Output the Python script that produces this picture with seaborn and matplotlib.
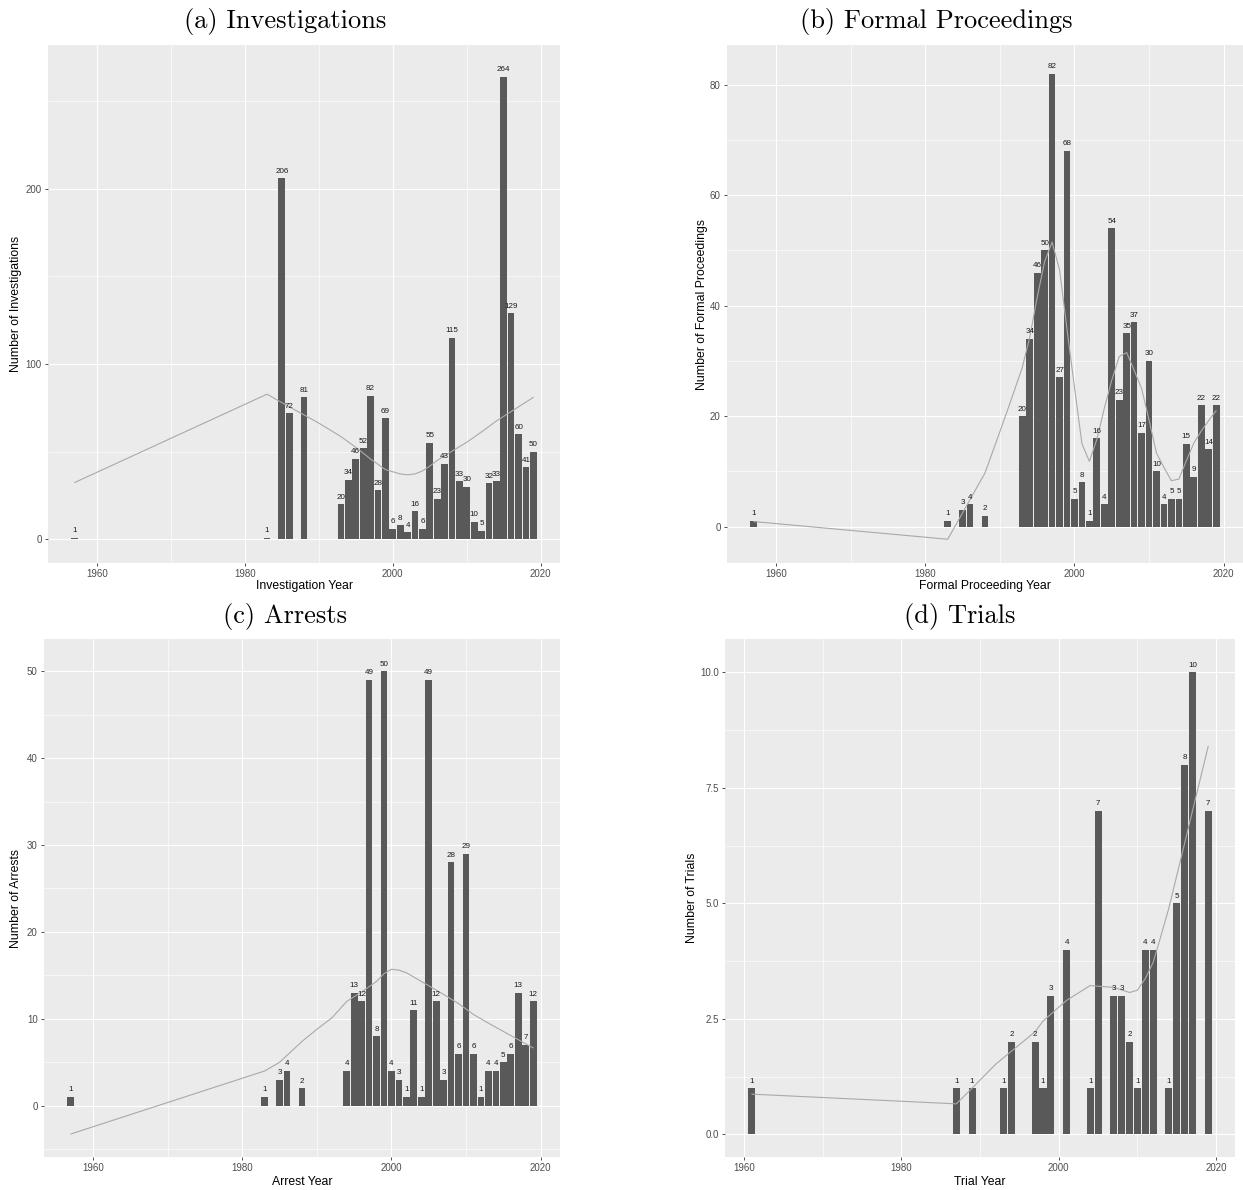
import matplotlib
matplotlib.use("Agg")
import matplotlib.pyplot as plt
import pandas as pd
import seaborn as sns

# ---------------- data ----------------
inv_years = [1957, 1983, 1985, 1986, 1988, 1993, 1994, 1995, 1996, 1997, 1998, 1999,
             2000, 2001, 2002, 2003, 2004, 2005, 2006, 2007, 2008, 2009, 2010, 2011,
             2012, 2013, 2014, 2015, 2016, 2017, 2018, 2019]
inv_counts = [1, 1, 206, 72, 81, 20, 34, 46, 52, 82, 28, 69,
              6, 8, 4, 16, 6, 55, 23, 43, 115, 33, 30, 10,
              5, 32, 33, 264, 129, 60, 41, 50]
inv_smooth_years = [1957, 1983, 1986, 1988, 1990, 1993, 1995, 1997, 1999, 2001, 2002,
                    2003, 2004, 2005, 2006, 2008, 2010, 2012, 2014, 2016, 2019]
inv_smooth = [32.4, 82.8, 75.6, 71.0, 66.3, 58.6, 52.5, 45.8, 39.8, 37.3, 36.8,
              37.3, 39.0, 41.8, 45.0, 50.3, 55.4, 61.3, 67.5, 72.9, 81.0]

fp_years = [1957, 1983, 1985, 1986, 1988, 1993, 1994, 1995, 1996, 1997, 1998, 1999,
            2000, 2001, 2002, 2003, 2004, 2005, 2006, 2007, 2008, 2009, 2010, 2011,
            2012, 2013, 2014, 2015, 2016, 2017, 2018, 2019]
fp_counts = [1, 1, 3, 4, 2, 20, 34, 46, 50, 82, 27, 68,
             5, 8, 1, 16, 4, 54, 23, 35, 37, 17, 30, 10,
             4, 5, 5, 15, 9, 22, 14, 22]
fp_smooth_years = [1957, 1983, 1985, 1988, 1990, 1991, 1993, 1994, 1995, 1996, 1997,
                   1998, 1999, 2000, 2001, 2002, 2003, 2004, 2005, 2006, 2007, 2008,
                   2009, 2010, 2011, 2012, 2013, 2014, 2015, 2016, 2017, 2018, 2019]
fp_smooth = [0.9, -2.3, 2.5, 9.7, 17.2, 21.0, 28.8, 34.3, 41.5, 48.0, 51.5,
             46.5, 35.7, 25.2, 15.0, 11.8, 15.8, 21.4, 26.5, 30.8, 31.5, 28.3,
             25.0, 19.3, 13.3, 10.7, 8.3, 8.6, 11.9, 15.1, 17.3, 19.2, 21.0]

ar_years = [1957, 1983, 1985, 1986, 1988, 1994, 1995, 1996, 1997, 1998, 1999, 2000,
            2001, 2002, 2003, 2004, 2005, 2006, 2007, 2008, 2009, 2010, 2011, 2012,
            2013, 2014, 2015, 2016, 2017, 2018, 2019]
ar_counts = [1, 1, 3, 4, 2, 4, 13, 12, 49, 8, 50, 4,
             3, 1, 11, 1, 49, 12, 3, 28, 6, 29, 6, 1,
             4, 4, 5, 6, 13, 7, 12]
ar_smooth_years = [1957, 1983, 1985, 1988, 1990, 1992, 1994, 1996, 1998, 1999, 2000,
                   2001, 2002, 2003, 2005, 2007, 2009, 2011, 2013, 2015, 2017, 2019]
ar_smooth = [-3.25, 4.0, 5.0, 7.4, 8.8, 10.1, 12.0, 13.1, 14.3, 15.2, 15.7,
             15.6, 15.3, 14.8, 13.8, 12.8, 11.75, 10.5, 9.5, 8.55, 7.6, 6.65]

tr_years = [1961, 1987, 1989, 1993, 1994, 1997, 1998, 1999, 2001, 2004, 2005,
            2007, 2008, 2009, 2010, 2011, 2012, 2014, 2015, 2016, 2017, 2019]
tr_counts = [1, 1, 1, 1, 2, 2, 1, 3, 4, 1, 7,
             3, 3, 2, 1, 4, 4, 1, 5, 8, 10, 7]
tr_smooth_years = [1961, 1987, 1989, 1992, 1995, 1997, 1998, 2001, 2004, 2007, 2009,
                   2010, 2011, 2012, 2013, 2014, 2015, 2016, 2017, 2018, 2019]
tr_smooth = [0.87, 0.66, 1.0, 1.52, 1.94, 2.22, 2.45, 2.9, 3.22, 3.18, 3.07,
             3.12, 3.37, 3.72, 4.3, 4.9, 5.6, 6.3, 7.0, 7.7, 8.4]

titles = ["(a) Investigations", "(b) Formal Proceedings", "(c) Arrests", "(d) Trials"]
xlabels = ["Investigation Year", "Formal Proceeding Year", "Arrest Year", "Trial Year"]
ylabels = ["Number of Investigations", "Number of Formal Proceedings",
           "Number of Arrests", "Number of Trials"]

# ---------------- style ----------------
sns.set_theme(style="darkgrid", rc={
    "axes.facecolor": "#EBEBEB",
    "grid.color": "white",
    "axes.edgecolor": "#EBEBEB",
})
plt.rcParams["font.family"] = ["Liberation Sans", "DejaVu Sans"]

BAR = "#595959"
LINE = "#A9A9A9"
TICK = "#4D4D4D"

W, H = 1243, 1190
fig = plt.figure(figsize=(W / 100, H / 100), dpi=100)


def px_axes(l, t, r, b):
    return fig.add_axes([l / W, 1 - b / H, (r - l) / W, (b - t) / H])


specs = [
    dict(years=inv_years, counts=inv_counts, sy=inv_smooth_years, sv=inv_smooth,
         box=(48, 45, 560, 563), xlim=(1953.4, 2022.6), ylim=(-13.5, 282),
         yt=[0, 100, 200], ym=[50, 150, 250], fmt="{:.0f}",
         title_xy=(285, 28), ylab_x=16, xlab_y=586),
    dict(years=fp_years, counts=fp_counts, sy=fp_smooth_years, sv=fp_smooth,
         box=(727, 45, 1243, 563), xlim=(1953.4, 2022.6), ylim=(-6.6, 87.2),
         yt=[0, 20, 40, 60, 80], ym=[10, 30, 50, 70], fmt="{:.0f}",
         title_xy=(936, 28), ylab_x=702, xlab_y=586),
    dict(years=ar_years, counts=ar_counts, sy=ar_smooth_years, sv=ar_smooth,
         box=(44, 639, 560, 1157), xlim=(1953.4, 2022.6), ylim=(-5.9, 53.7),
         yt=[0, 10, 20, 30, 40, 50], ym=[-5, 5, 15, 25, 35, 45], fmt="{:.0f}",
         title_xy=(285, 623), ylab_x=16, xlab_y=1182),
    dict(years=tr_years, counts=tr_counts, sy=tr_smooth_years, sv=tr_smooth,
         box=(725, 639, 1235, 1157), xlim=(1957.6, 2022.4), ylim=(-0.49, 10.72),
         yt=[0, 2.5, 5, 7.5, 10], ym=[1.25, 3.75, 6.25, 8.75], fmt="{:.1f}",
         title_xy=(960, 623), ylab_x=692, xlab_y=1182),
]

for i, sp in enumerate(specs):
    l, t, r, b = sp["box"]
    ax = px_axes(l, t, r, b)
    df = pd.DataFrame({"year": sp["years"], "count": sp["counts"]})
    sns.barplot(data=df, x="year", y="count", native_scale=True, width=0.9,
                color=BAR, saturation=1, errorbar=None, linewidth=0, ax=ax)
    sdf = pd.DataFrame({"year": sp["sy"], "fit": sp["sv"]})
    sns.lineplot(data=sdf, x="year", y="fit", color=LINE, linewidth=0.8, ax=ax)

    for yr, c in zip(sp["years"], sp["counts"]):
        ax.annotate(str(c), (yr, c), xytext=(0, 4.0), textcoords="offset points",
                    ha="center", va="baseline", fontsize=5.8, color="#1a1a1a")

    ax.set_xlim(*sp["xlim"])
    ax.set_ylim(*sp["ylim"])
    ax.set_xticks([1960, 1980, 2000, 2020])
    ax.set_xticklabels(["1960", "1980", "2000", "2020"])
    ax.set_xticks([1970, 1990, 2010], minor=True)
    ax.set_yticks(sp["yt"])
    ax.set_yticklabels([sp["fmt"].format(v) for v in sp["yt"]])
    ax.set_yticks(sp["ym"], minor=True)
    ax.grid(which="major", color="white", linewidth=0.85)
    ax.grid(which="minor", color="white", linewidth=0.45)
    ax.set_axisbelow(True)
    ax.tick_params(which="major", length=2.5, width=0.6, color="#333333",
                   labelsize=7, labelcolor=TICK, pad=2, bottom=True, left=True)
    ax.tick_params(which="minor", length=0)
    for s in ax.spines.values():
        s.set_visible(False)
    ax.set_xlabel("")
    ax.set_ylabel("")

    # axis titles
    fig.text(sp["ylab_x"] / W, 1 - ((t + b) / 2) / H, ylabels[i], rotation=90,
             ha="center", va="center", fontsize=8.8, color="black")
    fig.text(((l + r) / 2) / W, 1 - sp["xlab_y"] / H, xlabels[i],
             ha="center", va="center", fontsize=8.8, color="black")
    # subfigure captions
    tx, ty = sp["title_xy"]
    fig.text(tx / W, 1 - ty / H, titles[i], ha="center", va="baseline",
             fontsize=19, family="cmr10", color="black")

fig.savefig("out.png", dpi=100, facecolor="white")
